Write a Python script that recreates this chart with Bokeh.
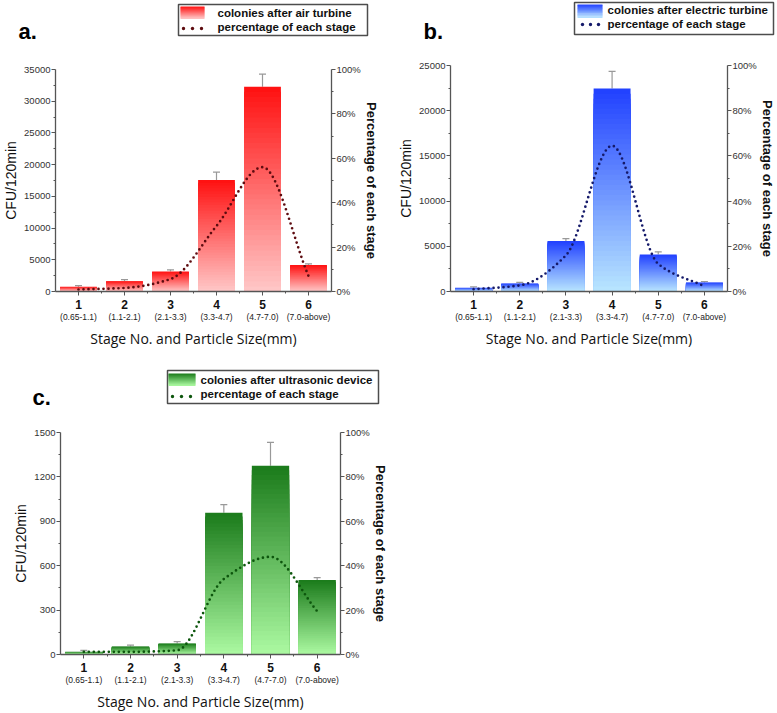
import numpy as np
from bokeh.plotting import figure
from bokeh.models import (Range1d, LinearAxis, FixedTicker, PrintfTickFormatter,
                          ColumnDataSource, Whisker, TeeHead)
from bokeh.layouts import row, column
from bokeh.core.properties import value
from bokeh.embed import file_html
from bokeh.resources import INLINE

# ---------------- data ----------------
stages = [1, 2, 3, 4, 5, 6]
stage_labels = ["1", "2", "3", "4", "5", "6"]
size_ranges = ["(0.65-1.1)", "(1.1-2.1)", "(2.1-3.3)", "(3.3-4.7)", "(4.7-7.0)", "(7.0-above)"]

air_cfu = [740, 1630, 3140, 17580, 32280, 4190]
air_err = [200, 250, 270, 1250, 2000, 150]
air_pct = [0.9, 1.6, 5.6, 29.5, 56.0, 7.0]
air_yticks = [0, 5000, 10000, 15000, 20000, 25000, 30000, 35000]

elec_cfu = [405, 885, 5600, 22450, 4090, 995]
elec_err = [100, 120, 260, 1900, 300, 110]
elec_pct = [1.0, 2.7, 16.0, 64.5, 12.2, 2.3]
elec_yticks = [0, 5000, 10000, 15000, 20000, 25000]

ultra_cfu = [18, 54, 74, 957, 1276, 504]
ultra_err = [10, 9, 13, 56, 157, 16]
ultra_pct = [1.2, 1.2, 1.9, 34.0, 44.0, 19.5]
ultra_yticks = [0, 300, 600, 900, 1200, 1500]

pct_ticks = [0, 20, 40, 60, 80, 100]

legend_air = ["colonies after air turbine", "percentage of each stage"]
legend_elec = ["colonies after electric turbine", "percentage of each stage"]
legend_ultra = ["colonies after ultrasonic device", "percentage of each stage"]

FONT = "Liberation Sans"
AXC = "#555555"


def mix(c1, c2, t):
    r = [int(round(a + (b - a) * t)) for a, b in zip(c1, c2)]
    return "#%02x%02x%02x" % tuple(r)


def pchip(x, y, xs):
    x = np.asarray(x, float); y = np.asarray(y, float)
    h = np.diff(x); d = np.diff(y) / h
    n = len(x); m = np.zeros(n)
    for k in range(1, n - 1):
        if d[k - 1] * d[k] <= 0:
            m[k] = 0.0
        else:
            w1 = 2 * h[k] + h[k - 1]; w2 = h[k] + 2 * h[k - 1]
            m[k] = (w1 + w2) / (w1 / d[k - 1] + w2 / d[k])
    m[0] = d[0]; m[-1] = d[-1]
    out = np.empty_like(xs)
    for i, xv in enumerate(xs):
        k = min(max(np.searchsorted(x, xv) - 1, 0), n - 2)
        t = (xv - x[k]) / h[k]
        h00 = 2 * t**3 - 3 * t**2 + 1; h10 = t**3 - 2 * t**2 + t
        h01 = -2 * t**3 + 3 * t**2; h11 = t**3 - t**2
        out[i] = h00 * y[k] + h10 * h[k] * m[k] + h01 * y[k + 1] + h11 * h[k] * m[k + 1]
    return out


def style_axis(ax, size="9.5px"):
    ax.axis_line_color = AXC
    ax.axis_line_width = 1.3
    ax.major_tick_line_color = AXC
    ax.minor_tick_line_color = AXC
    ax.major_tick_out = 4
    ax.major_tick_in = 0
    ax.minor_tick_out = 2
    ax.minor_tick_in = 0
    ax.major_label_text_font = FONT
    ax.major_label_text_font_size = size
    ax.major_label_text_color = "#333333"
    ax.axis_label_text_font = FONT
    ax.axis_label_text_font_style = "normal"
    ax.axis_label_text_color = "#111111"


def chart(cfu, err, pct, yticks, top_rgb, bot_rgb, dot_color,
          width, height, bl, br, bt, bb):
    ymax = yticks[-1]
    step = yticks[1] - yticks[0]
    p = figure(width=width, height=height, x_range=Range1d(0.5, 6.5),
               y_range=Range1d(0, ymax), output_backend="svg",
               toolbar_location=None, min_border_left=bl, min_border_right=br,
               min_border_top=bt, min_border_bottom=bb)
    p.frame_align = False
    p.outline_line_color = None
    p.grid.visible = False

    # gradient bars: full bars first, successively shorter & lighter on top
    n = 40
    L, R, T, B, C = [], [], [], [], []
    for k in range(n):
        frac = 1 - k / n
        col = mix(bot_rgb, top_rgb, frac - 0.5 / n)
        for s, v in zip(stages, cfu):
            L.append(s - 0.4); R.append(s + 0.4)
            B.append(0); T.append(v * frac); C.append(col)
    p.quad(left=L, right=R, bottom=B, top=T, fill_color=C, line_color=None)

    # error bars (upper only)
    src = ColumnDataSource(dict(x=stages, lower=cfu,
                                upper=[v + e for v, e in zip(cfu, err)]))
    p.add_layout(Whisker(source=src, base="x", lower="lower", upper="upper",
                         dimension="height", line_color="#999999", line_width=1.2,
                         upper_head=TeeHead(size=7, line_color="#999999", line_width=1.2),
                         lower_head=None))

    # percentage curve (smooth dotted line through the stage percentages)
    p.extra_y_ranges = {"pct": Range1d(0, 100)}
    xs = np.linspace(stages[0], stages[-1], 300)
    ys = pchip(stages, pct, xs)
    p.line(xs, ys, y_range_name="pct", line_color=dot_color, line_width=2.7,
           line_dash="0 5", line_cap="round")

    ya = p.yaxis[0]
    ya.ticker = FixedTicker(ticks=yticks,
                            minor_ticks=[t + step / 2 for t in yticks[:-1]])
    style_axis(ya)
    ya.axis_label = "CFU/120min"
    ya.axis_label_text_font_size = "14px"
    ya.axis_label_standoff = 2
    ya.major_label_standoff = 1

    ra = LinearAxis(y_range_name="pct",
                    ticker=FixedTicker(ticks=pct_ticks,
                                       minor_ticks=[t + 10 for t in pct_ticks[:-1]]),
                    formatter=PrintfTickFormatter(format="%d%%"),
                    axis_label="Percentage of each stage")
    style_axis(ra)
    ra.axis_label_text_font_size = "13px"
    ra.axis_label_text_font_style = "bold"
    ra.axis_label_standoff = 0
    ra.major_label_standoff = 1
    p.add_layout(ra, "right")

    xa = p.xaxis[0]
    xa.ticker = FixedTicker(ticks=stages, minor_ticks=[s + 0.5 for s in stages[:-1]])
    xa.major_label_overrides = {s: lab for s, lab in zip(stages, stage_labels)}
    style_axis(xa, "12px")
    xa.major_label_text_font_style = "bold"
    xa.major_label_text_color = "#111111"
    xa.major_label_standoff = 4

    xa2 = LinearAxis(ticker=FixedTicker(ticks=stages),
                     major_label_overrides={s: lab for s, lab in zip(stages, size_ranges)},
                     axis_label="Stage No. and Particle Size(mm)")
    style_axis(xa2, "8.5px")
    xa2.axis_line_color = None
    xa2.major_tick_line_color = None
    xa2.minor_tick_line_color = None
    xa2.major_tick_out = 0
    xa2.major_label_standoff = 0
    xa2.major_label_text_color = "#222222"
    xa2.axis_label_text_font = "Open Sans"
    xa2.axis_label_text_font_size = "14px"
    xa2.axis_label_standoff = 4
    p.add_layout(xa2, "below")
    return p


def header(width, height, tag, tag_xy, box, swatch, dots_x, dots_y, text_x, text_y,
           labels, top_rgb, bot_rgb, dot_color):
    h = figure(width=width, height=height, x_range=Range1d(0, width),
               y_range=Range1d(height, 0), output_backend="svg",
               toolbar_location=None, min_border=0)
    h.frame_align = False
    h.axis.visible = False
    h.grid.visible = False
    h.outline_line_color = None
    bx0, bx1, by0, by1 = box
    h.quad(left=[bx0], right=[bx1], top=[by0], bottom=[by1],
           fill_color=None, line_color="#4d4d4d", line_width=1.5)
    sx0, sx1, sy0, sy1 = swatch
    nb = 12
    hh = (sy1 - sy0) / nb
    h.quad(left=[sx0] * nb, right=[sx1] * nb,
           top=[sy0 + i * hh for i in range(nb)],
           bottom=[sy0 + (i + 1) * hh + 0.4 for i in range(nb)],
           fill_color=[mix(top_rgb, bot_rgb, (i + 0.5) / nb) for i in range(nb)],
           line_color=None)
    h.scatter(x=dots_x, y=[dots_y] * len(dots_x), size=3.4,
              marker="circle", fill_color=dot_color, line_color=None)
    h.text(x=[text_x] * 2, y=text_y, text=labels,
           text_font=value(FONT), text_font_size="11.5px", text_font_style="bold",
           text_baseline="middle", text_color="#111111")
    h.text(x=[tag_xy[0]], y=[tag_xy[1]], text=[tag], text_font=value(FONT),
           text_font_size="22px", text_font_style="bold",
           text_baseline="alphabetic", text_color="#000000")
    return h


RED_T, RED_B = (255, 16, 16), (255, 200, 200)
BLU_T, BLU_B = (32, 64, 255), (185, 230, 255)
GRN_T, GRN_B = (26, 122, 26), (172, 250, 162)
RED_D, BLU_D, GRN_D = "#5e0c10", "#151a6a", "#0d560d"

ha = header(390, 45, "a.", (18, 31), (178, 367, 4, 35), (180, 204, 6, 18),
            [183, 192, 201], 28, 217, [12, 26], legend_air, RED_T, RED_B, RED_D)
pa = chart(air_cfu, air_err, air_pct, air_yticks, RED_T, RED_B, RED_D,
           390, 305, 54, 59, 24, 58)

hb = header(387, 45, "b.", (33, 31), (184, 383, 2, 34), (187, 212, 4, 17),
            [192, 200, 208], 24, 217, [9, 23], legend_elec, BLU_T, BLU_B, BLU_D)
pb = chart(elec_cfu, elec_err, elec_pct, elec_yticks, BLU_T, BLU_B, BLU_D,
           387, 305, 60, 47, 20, 59)

hc = header(390, 60, "c.", (32, 47), (167, 378, 20, 53), (168, 195, 23, 35),
            [172, 181, 190], 46, 200, [29, 43], legend_ultra, GRN_T, GRN_B, GRN_D)
pc = chart(ultra_cfu, ultra_err, ultra_pct, ultra_yticks, GRN_T, GRN_B, GRN_D,
           390, 303, 60, 50, 22, 58)

lay = column(row(column(ha, pa, spacing=0), column(hb, pb, spacing=0), spacing=0),
             column(hc, pc, spacing=0), spacing=0)

open("out.html", "w").write(file_html(lay, INLINE))
